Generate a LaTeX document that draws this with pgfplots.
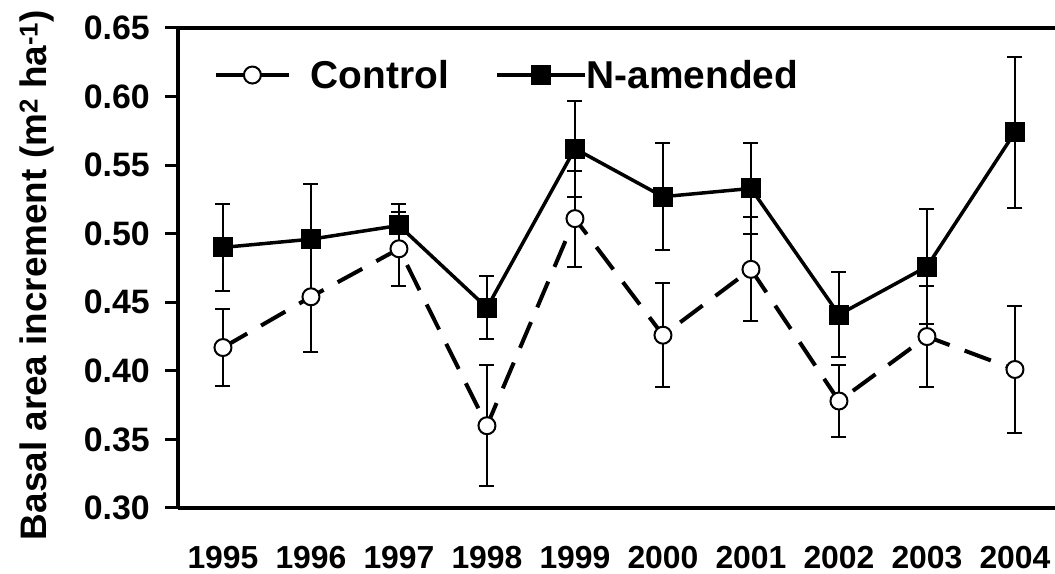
\documentclass[border=0pt]{standalone}
\usepackage{fontspec}
\setmainfont{Liberation Sans}
\usepackage{pgfplots}
\usepackage{pgfplotstable}
\pgfplotsset{compat=1.18}
\pgfplotstableread{
x y e
0 0.490 0.032
1 0.496 0.040
2 0.506 0.016
3 0.446 0.023
4 0.562 0.035
5 0.527 0.039
6 0.533 0.033
7 0.441 0.031
8 0.476 0.042
9 0.574 0.055
}\Namended
\pgfplotstableread{
x y e
0 0.417 0.028
1 0.454 0.040
2 0.489 0.027
3 0.360 0.044
4 0.511 0.035
5 0.426 0.038
6 0.474 0.038
7 0.378 0.026
8 0.425 0.037
9 0.401 0.046
}\Control
\newcommand\ctrlimg{%
  \path[draw=none, fill=none] (0bp,0bp) -- (95bp,0bp);
  \draw[black, line width=3.5bp] (0bp,0bp) -- (73bp,0bp);
  \draw[black] plot[mark=*, mark size=8.5bp, mark options={fill=white, draw=black, line width=2bp}] coordinates {(36.5bp,0bp)};}
\newcommand\nimg{%
  \path[draw=none, fill=none] (0bp,0bp) -- (90bp,0bp);
  \draw[black, line width=3.5bp] (0bp,0bp) -- (88bp,0bp);
  \draw[black] plot[mark=square*, mark size=9.5bp, mark options={fill=black, draw=black, line width=1bp}] coordinates {(44bp,0bp)};}
\begin{document}
\begin{tikzpicture}
\begin{axis}[
  scale only axis,
  width=877bp, height=480bp,
  xmin=-0.511, xmax=9.455,
  ymin=0.30, ymax=0.65,
  axis x line*=box, axis y line*=left,
  axis line style={line width=4bp, black},
  xtick={0,...,9},
  xticklabels={1995,1996,1997,1998,1999,2000,2001,2002,2003,2004},
  xtick style={draw=none},
  ytick={0.30,0.35,...,0.66},
  yticklabel={\pgfmathprintnumber[fixed,fixed zerofill,precision=2,assume math mode=true]{\tick}\hspace*{15bp}},
  ytick pos=left,
  tick align=outside,
  major tick length=13bp,
  ytick style={line width=3bp, black},
  /pgf/number format/assume math mode=true,
  yticklabel style={font=\fontsize{34}{40}\selectfont\bfseries, inner sep=0pt},
  xticklabel style={font=\fontsize{32}{38}\selectfont\bfseries, inner sep=0pt, yshift=-25bp},
  ylabel={Basal area increment (m\textsuperscript{2} ha\textsuperscript{-1})},
  ylabel style={font=\fontsize{37}{44}\selectfont\bfseries, at={(axis description cs:-0.1608,0.4854)}, anchor=center},
  clip=false,
  legend style={draw=none, fill=none, at={(0.041,0.902)}, anchor=west,
    font=\fontsize{39}{45}\selectfont\bfseries, inner sep=0pt,
    nodes={inner sep=0pt}, column sep=0pt},
  legend columns=2,
  error bars/error bar style={line width=2bp, black, solid},
  error bars/error mark options={rotate=90, mark size=7.5bp, line width=2bp, black, solid},
]
\addlegendimage{legend image code/.code={\ctrlimg}}
\addlegendentry{Control\hspace*{46bp}}
\addplot[black, line width=3.5bp, mark=square*, mark options={fill=black, line width=1bp, mark size=9.5bp},
  legend image code/.code={\nimg},
  error bars/.cd, y dir=both, y explicit]
  table[x=x, y=y, y error=e]{\Namended};
\addlegendentry{N-amended}
\addplot[forget plot, black, line width=4bp, dash pattern=on 28bp off 16bp, mark=*, mark options={fill=white, draw=black, solid, line width=2bp, mark size=8.5bp},
  error bars/.cd, y dir=both, y explicit]
  table[x=x, y=y, y error=e]{\Control};
\end{axis}
\pgfresetboundingbox
\path[use as bounding box] ([shift={(-178bp,-66bp)}]current axis.south west) rectangle ([shift={(0bp,28bp)}]current axis.north east);
\end{tikzpicture}
\end{document}
